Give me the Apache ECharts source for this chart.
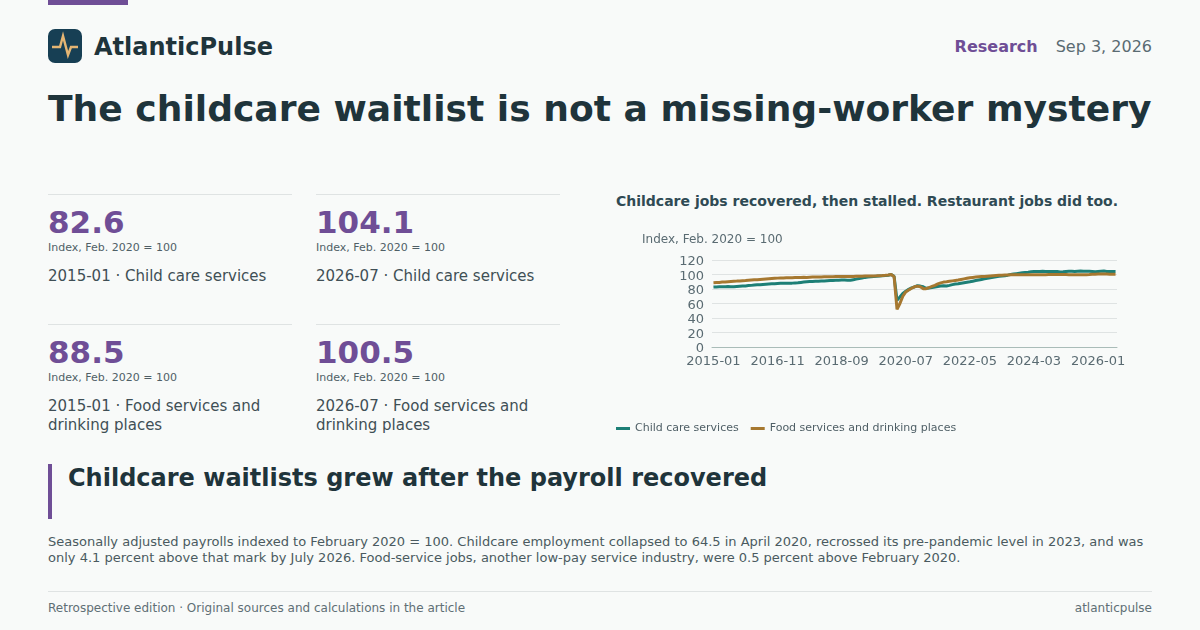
<!DOCTYPE html>
<html><head><meta charset="utf-8">
<script src="https://cdn.jsdelivr.net/npm/echarts@6/dist/echarts.min.js"></script>
<style>
html,body{margin:0;padding:0;width:1200px;height:630px;overflow:hidden;background:#f8faf9;font-family:"DejaVu Sans",sans-serif;color:#1f343b}
.a{position:absolute;white-space:nowrap}
.rule{position:absolute;height:1px;background:#dfe3e3}
.kv{position:absolute;font-size:31px;font-weight:700;color:#6f4e96;line-height:38px}
.ku{position:absolute;font-size:11px;color:#4f5f66;line-height:14px}
.kl{position:absolute;font-size:15px;color:#3f4f55;line-height:19px;width:244px}
</style></head><body>
<div class="a" style="left:48px;top:0;width:80px;height:5px;background:#6f4e96"></div>
<svg class="a" style="left:48px;top:29px" width="34" height="34" viewBox="0 0 34 34"><rect width="34" height="34" rx="7" fill="#173f54"/><polyline points="4,18 12,18 15,7 20,26 23,18 30,18" fill="none" stroke="#e4b573" stroke-width="2.4"/></svg>
<div class="a" style="left:94px;top:31px;font-size:24px;font-weight:700;line-height:32px">AtlanticPulse</div>
<div class="a" style="right:48px;top:37px;font-size:16px;line-height:20px;color:#5a6b72"><b style="color:#6f4e96;margin-right:18px">Research</b>Sep 3, 2026</div>
<div class="a" style="left:48px;top:84px;font-size:36.1px;font-weight:700;line-height:50px">The childcare waitlist is not a missing-worker mystery</div>

<div class="rule" style="left:48px;top:194px;width:244px"></div>
<div class="kv" style="left:48px;top:203px" id="k0"></div><div class="ku" style="left:48px;top:241px" id="u0"></div><div class="kl" style="left:48px;top:267px" id="l0"></div>
<div class="rule" style="left:316px;top:194px;width:244px"></div>
<div class="kv" style="left:316px;top:203px" id="k1"></div><div class="ku" style="left:316px;top:241px" id="u1"></div><div class="kl" style="left:316px;top:267px" id="l1"></div>
<div class="rule" style="left:48px;top:324px;width:244px"></div>
<div class="kv" style="left:48px;top:333px" id="k2"></div><div class="ku" style="left:48px;top:371px" id="u2"></div><div class="kl" style="left:48px;top:397px" id="l2"></div>
<div class="rule" style="left:316px;top:324px;width:244px"></div>
<div class="kv" style="left:316px;top:333px" id="k3"></div><div class="ku" style="left:316px;top:371px" id="u3"></div><div class="kl" style="left:316px;top:397px" id="l3"></div>

<div class="a" style="left:616px;top:192px;font-size:14px;font-weight:700;line-height:18px;color:#2f4a54">Childcare jobs recovered, then stalled. Restaurant jobs did too.</div>
<div id="chart" class="a" style="left:616px;top:225px;width:536px;height:215px"></div>

<div class="a" style="left:48px;top:464px;width:4px;height:55px;background:#6f4e96"></div>
<div class="a" style="left:68px;top:462px;font-size:24px;font-weight:700;line-height:32px">Childcare waitlists grew after the payroll recovered</div>
<div class="a" style="left:48px;top:534px;width:1104px;font-size:13px;line-height:16px;color:#4a5a60;white-space:normal">Seasonally adjusted payrolls indexed to February 2020 = 100. Childcare employment collapsed to 64.5 in April 2020, recrossed its pre-pandemic level in 2023, and was only 4.1 percent above that mark by July 2026. Food-service jobs, another low-pay service industry, were 0.5 percent above February 2020.</div>
<div class="rule" style="left:48px;top:591px;width:1104px"></div>
<div class="a" style="left:48px;top:601px;font-size:12px;line-height:15px;color:#5f6f75">Retrospective edition · Original sources and calculations in the article</div>
<div class="a" style="right:48px;top:601px;font-size:12px;line-height:15px;color:#5f6f75">atlanticpulse</div>

<script>
const kpiValues = ["82.6","104.1","88.5","100.5"];
const kpiLabels = ["2015-01 · Child care services","2026-07 · Child care services","2015-01 · Food services and drinking places","2026-07 · Food services and drinking places"];
const unitLabel = "Index, Feb. 2020 = 100";
const seriesNames = ["Child care services","Food services and drinking places"];
const childCare = [
82.6,82.8,83.0,83.1,83.2,83.3,83.2,83.0,83.4,83.7,84.0,84.3,
84.7,85.0,85.4,85.7,86.0,86.3,86.6,86.9,87.1,87.3,87.6,87.8,
87.9,88.0,88.1,88.1,88.4,88.7,89.1,89.5,89.9,90.2,90.5,90.7,
90.8,91.0,91.2,91.4,91.6,91.8,92.0,92.2,92.4,92.3,92.2,92.2,
92.9,93.6,94.4,95.2,96.0,96.6,97.0,97.4,97.7,98.0,98.2,98.5,
98.9,100,97.5,64.5,69,74,77,79.5,81.5,83,84.5,84,
83,81,81.5,82,82.8,83.5,84,84.5,84.2,85,86,86.8,
87.2,87.9,88.6,89.3,90,90.8,91.6,92.4,93.2,94,94.8,95.6,
96.2,96.8,97.4,97.9,98.4,99.1,99.9,100.6,101.2,101.8,102.3,102.8,
103.2,103.7,104,104.2,104.3,104.4,104.3,104.2,104.3,104.2,104.1,103.6,
103.8,104.2,104.4,104.5,104.3,104.6,104.7,104.5,104.6,104.5,104.3,103.9,
104.2,104.5,104.7,104.3,104.0,104.2,104.1];
const foodServices = [
88.5,88.8,89.1,89.5,89.8,90.1,90.4,90.7,90.9,91.2,91.5,91.7,
92,92.3,92.6,92.9,93.2,93.5,93.8,94.1,94.4,94.7,95,95.1,
95.2,95.4,95.5,95.6,95.7,95.8,95.9,96.1,96.0,96.2,96.4,96.5,
96.6,96.7,96.8,96.9,97,97.0,97.1,97.1,97.1,97.2,97.3,97.3,
97.4,97.5,97.6,97.7,97.8,97.9,98,98.1,98.2,98.4,98.6,98.9,
99.4,100,97,52,60,70,76,78.5,81,83,84,83,
80.5,80.5,82,83.5,85,87,88.5,89.5,90,90.6,91.2,91.8,
92.3,93.2,94,94.8,95.6,96,96.4,96.8,97.1,97.4,97.7,98,
98.3,98.6,98.8,99,99.2,99.4,99.5,99.5,99.6,99.6,99.7,99.7,
99.6,99.6,99.7,99.7,99.8,99.8,99.8,99.9,99.9,100,100,99.9,
99.9,99.9,99.8,99.8,99.7,99.7,99.7,99.7,99.8,100,100.3,100.5,
100.6,100.7,100.7,100.6,100.5,100.5,100.5];
const months = [];
for (let y = 2015; months.length < childCare.length; y++)
  for (let m = 1; m <= 12 && months.length < childCare.length; m++)
    months.push(y + "-" + String(m).padStart(2, "0"));

kpiValues.forEach((v,i)=>{
  document.getElementById("k"+i).textContent=v;
  document.getElementById("u"+i).textContent=unitLabel;
  document.getElementById("l"+i).textContent=kpiLabels[i];
});

const chart = echarts.init(document.getElementById("chart"),null,{renderer:"canvas"});
chart.setOption({
  animation:false,
  textStyle:{fontFamily:"DejaVu Sans"},
  grid:{left:96,right:35,top:35,bottom:93,containLabel:false},
  legend:{left:0,bottom:6,padding:0,itemWidth:14,itemHeight:3,itemGap:12,icon:"rect",
    textStyle:{fontSize:11,color:"#4f5f66"},data:seriesNames},
  xAxis:{type:"category",data:months,boundaryGap:true,
    axisTick:{show:false},
    axisLine:{lineStyle:{color:"#a9bcb8",width:1}},
    axisLabel:{interval:(i)=>i%22===0,fontSize:13,color:"#5a6b72",margin:8,hideOverlap:false}},
  yAxis:{type:"value",min:0,max:120,interval:20,
    name:unitLabel,nameLocation:"end",nameGap:14,
    nameTextStyle:{fontSize:12,color:"#5a6b72",align:"left",padding:[0,0,0,-70]},
    axisLine:{show:false},axisTick:{show:false},
    axisLabel:{margin:8,formatter:"{t|{value}}",
      rich:{t:{fontSize:13,color:"#5a6b72",padding:[4,0,0,0]}}},
    splitLine:{lineStyle:{color:"#dfe3e3",width:1}}},
  series:[
    {name:seriesNames[0],type:"line",data:childCare,showSymbol:false,symbol:"none",lineStyle:{color:"#1d7f76",width:3},itemStyle:{color:"#1d7f76"}},
    {name:seriesNames[1],type:"line",data:foodServices,showSymbol:false,symbol:"none",lineStyle:{color:"#a67830",width:3},itemStyle:{color:"#a67830"}}
  ]
});
</script>
</body></html>
